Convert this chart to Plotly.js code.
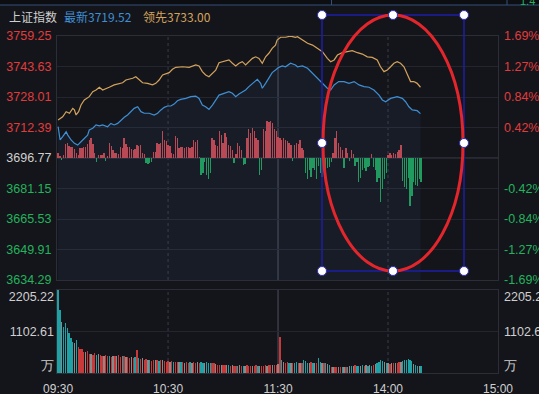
<!DOCTYPE html>
<html><head><meta charset="utf-8">
<script src="https://cdn.plot.ly/plotly-3.0.1.min.js"></script>
<style>html,body{margin:0;padding:0;background:#14151b;overflow:hidden}#c{width:539px;height:394px}</style>
</head><body><div id="c"></div>
<script>
// ---- data ----
const indexName = '上证指数';
const latest = 3719.52;
const leading = 3733.00;
const baseClose = 3696.77;
const priceTicks = [3634.29,3649.91,3665.53,3681.15,3696.77,3712.39,3728.01,3743.63,3759.25];
const pctTicks = ['-1.69%','-1.27%','-0.84%','-0.42%','','0.42%','0.84%','1.27%','1.69%'];
const timeTickVals = [0,60,120,180,240];
const timeTickText = ['09:30','10:30','11:30','14:00','15:00'];
const volTicks = [0,1102.61,2205.22];

// 领先 (leading) line: minute, price
const leadT = [0,2.5,4.4,6.2,8,8.9,9.8,11.2,12.5,14.3,17,18.9,20.7,22.5,24.3,26.1,27.9,30.6,33.4,35.2,37,38.8,40.7,42.4,44.2,46.1,48.8,51.5,53.3,55.1,57,58.8,60.6,62.4,64.2,67.9,71.5,75.1,76.9,78.7,80.5,82.3,84.2,86,87.8,89.6,91.4,93.2,95.1,96.9,98.7,100.5,102.3,104.1,106,107.8,109.6,111.4,113.2,115,116.8,118.6,119.5,121.4,124.1,126.8,129.5,130.6,133.3,136.1,138.8,141.5,144.2,146.9,148.7,150.6,152.4,155.1,157.8,160.5,163.3,166,168.7,171.4,174.1,175.9,177.8,179.6,181.4,183.2,185,186.8,188.7,190.5,192.3,194.1,195.9,197.7];
const leadP = [3716.2,3717.9,3720.5,3719.7,3722.2,3721.4,3718.8,3720.5,3723.9,3726.5,3728.2,3730.7,3731.6,3733.0,3731.6,3732.5,3733.0,3734.2,3734.7,3735.3,3736.7,3737.1,3737.6,3738.4,3736.7,3735.3,3735.0,3734.2,3735.0,3736.7,3739.3,3740.1,3740.5,3742.2,3743.2,3743.5,3743.2,3744.4,3743.9,3741.0,3739.3,3738.4,3740.1,3741.8,3745.6,3746.1,3746.6,3747.0,3745.3,3743.9,3745.3,3746.1,3744.4,3746.1,3747.8,3748.6,3747.8,3745.3,3748.6,3750.4,3752.9,3754.6,3757.2,3758.6,3758.6,3759.2,3758.6,3758.9,3757.2,3755.5,3754.6,3752.9,3751.2,3747.8,3746.1,3747.0,3749.5,3750.7,3751.2,3751.7,3750.7,3750.0,3748.6,3748.3,3747.0,3743.5,3741.0,3741.8,3743.5,3745.3,3746.1,3745.3,3743.5,3739.3,3735.9,3735.9,3735.0,3733.0];

// 最新 (latest) line: minute, price
const lastT = [0,1.1,2.5,4.4,5.3,7.1,8.9,10.7,12.5,14.3,16.1,17,18.9,20.7,22.5,24.3,27,28.8,30.6,32.5,34.3,36.1,37.9,39.7,41.5,43.4,45.2,47,49.7,52.4,54.3,56.1,57.9,59.7,61.5,63.3,65.1,66.9,69.7,72.4,75.1,76.9,78.7,80.5,82.3,84.2,86,87.8,90.5,93.2,95.1,96.9,98.7,100.5,102.3,104.1,106,108.7,110.5,111.4,113.2,115,116.8,118.6,120.4,122.3,124.1,126.8,129.5,130.6,133.3,136.1,138.8,141.5,144.2,146.9,148.7,150.6,153.1,156,158.7,161.5,164.2,166.9,169.6,172.3,175.1,176.9,178.7,181.4,185,187.8,189.6,191.4,193.2,195.9,197.7];
const lastP = [3712.8,3706.0,3707.7,3710.2,3708.5,3706.0,3704.3,3703.4,3705.1,3706.9,3708.5,3711.1,3712.0,3713.7,3713.2,3713.7,3712.8,3714.5,3713.7,3714.5,3716.2,3717.6,3718.8,3720.5,3722.2,3723.0,3720.5,3719.7,3719.7,3718.8,3719.7,3721.4,3722.7,3723.4,3723.4,3724.4,3726.1,3726.8,3727.3,3728.2,3728.5,3727.3,3723.9,3723.0,3721.7,3723.9,3726.5,3729.0,3729.9,3730.7,3729.9,3728.2,3729.5,3730.7,3731.6,3733.3,3735.0,3737.1,3735.0,3732.5,3735.0,3737.6,3740.5,3741.8,3743.2,3743.9,3743.5,3745.3,3744.4,3743.5,3743.9,3742.7,3740.1,3737.6,3735.0,3732.5,3731.6,3734.2,3735.9,3735.9,3735.0,3735.9,3734.2,3733.3,3733.0,3731.6,3729.0,3726.5,3725.6,3727.3,3728.2,3727.3,3725.6,3723.0,3721.4,3721.0,3719.5];

// red/green strength columns, one per minute (points above/below previous close)
const strength = [2.5,1,-1,1.5,7,7.5,6,5.5,5.5,4.5,2.5,1.5,5,5,5.5,5.5,7,9,10.5,7,2.5,-2,1.5,1.5,1.5,2.5,-1.5,1,7.5,6,4,2.5,2.5,2,5.5,5,10,7,5.5,5.5,4.5,4,4.5,6.5,6,6.5,2.5,2,-2.5,-3,-2.5,-2,3,3,7.5,7,7.5,14,9,8.5,6.5,6,2.5,2,11.5,10,5,5.5,5.5,5,5.5,5.5,5,5.5,9,8,9,0.5,-8.5,-7.5,-2,-8.5,-11,-7.5,10.5,9,6.5,6,14,12,7.5,13,11,6.5,6,4,-2.5,2,7.5,6,4,-3.5,-3,10,15,13,15.5,14,10.5,9,-8.5,-6,15,14,19,18.5,19,18,15,14,11,10,9,10,9,8.5,7.5,6.5,-1.5,6.5,7.5,7,9,5,4,-7.5,-11,-6,-9.5,-5,-6,-11,-4,-7.5,-9.5,-6,-7.5,-5,-4.5,-2,2.5,10,14,7.5,5.5,4,-5,5,2.5,-1.5,4,2,-4,-2,-12.5,-10,-6,-5,-6.5,-4.5,-4,2,-4.5,-6,-12.5,-10,-22.5,-16,-11,-7.5,1.5,2.5,1.5,2.5,2,3,4,6.5,-12,-15,-16,-10,-24.5,-19.5,-12.5,-14,-14.5,-11,-12.5];

// volume per minute (万) and its tick direction (1 up, -1 down, 0 flat)
const volume = [2205,1675,1360,1230,1320,1190,1060,920,830,790,880,700,650,630,570,560,580,510,500,490,520,480,500,470,455,440,470,445,450,430,460,450,440,470,430,445,455,430,420,410,425,400,415,610,400,385,390,350,360,340,350,330,355,340,345,330,350,340,310,300,320,295,310,290,300,305,285,280,290,270,285,275,290,270,280,265,300,270,280,275,260,285,270,265,275,260,230,210,220,200,215,205,220,200,190,200,185,195,190,200,180,195,185,200,190,180,195,185,200,190,185,195,180,200,190,210,205,220,210,200,230,960,345,300,270,280,265,275,260,270,285,260,275,270,345,330,270,260,280,265,270,275,390,280,260,270,255,240,200,170,160,165,155,170,160,150,165,160,170,175,190,185,200,180,195,190,210,185,200,195,205,190,210,230,260,300,350,330,280,260,270,250,265,255,270,260,280,300,320,350,340,370,355,320,250,210,190,180,185];
const volDir = [-1,-1,0,-1,-1,-1,-1,-1,-1,0,-1,
 1,1,1,1,0,1,1,0,1,1,-1,0,1,1,0,1,1,-1,1,0,
 1,0,1,1,-1,1,0,1,1,0,1,-1,1,-1,1,0,1,1,0,-1,1,1,0,1,-1,1,0,1,1,1,
 0,1,-1,1,1,0,-1,1,0,1,1,-1,0,1,1,0,1,-1,-1,0,-1,-1,-1,1,1,0,1,1,0,1,
 1,0,-1,1,0,1,1,-1,0,1,-1,0,1,1,1,0,1,1,-1,0,1,1,1,0,1,1,0,1,1,0,
 1,-1,0,1,1,-1,0,1,-1,-1,1,0,1,-1,-1,-1,0,1,-1,0,1,-1,-1,0,1,-1,0,-1,1,0,
 1,1,0,1,-1,0,1,-1,0,-1,0,1,-1,-1,0,-1,1,0,-1,0,-1,1,0,-1,-1,-1,-1,0,-1,0,
 1,0,1,0,1,1,0,-1,-1,-1,-1,-1,-1,0,-1,-1,0,-1];

// ---- styling / layout ----
const W = 539, H = 394;
const px = v => v / W, py = v => 1 - v / H;
const RED = '#e03c3c', GREEN = '#22b35c', GREY = '#cfcfcf';
const BG = '#14151b', GRID = '#24262f', FRAME = '#2b2d37';
const FONT = 'Arial, "Liberation Sans", sans-serif';
const CJK = '"Noto Sans CJK SC", sans-serif';

const minutes = strength.map((_, i) => i);
const volMin = volume.map((_, i) => i);
const pMin = priceTicks[0], pMax = priceTicks[priceTicks.length - 1];
const pct = p => (p / baseClose - 1) * 100;
const col = (v, ref) => v > ref + 1e-9 ? RED : (v < ref - 1e-9 ? GREEN : GREY);

const leftText = priceTicks.map(p => `<span style="color:${col(p, baseClose)}">${p.toFixed(2)}</span>`);
const rightText = priceTicks.map((p, i) => pctTicks[i] === '' ? '' :
  `<span style="color:${col(p, baseClose)}">${pctTicks[i]}</span>`);

const volMax = volTicks[2];
const nudge = 7 * volMax / 83;
const volLabelVals = [nudge, volTicks[1], volMax - nudge];
const volLabelText = ['万', volTicks[1].toFixed(2), volMax.toFixed(2)];

const traces = [
  { type: 'bar', x: minutes, y: strength, base: baseClose, xaxis: 'x', yaxis: 'y',
    width: 0.72, marker: { color: strength.map(v => v >= 0 ? '#c4464c' : '#1f9e58'), line: { width: 0 } } },
  { type: 'scatter', mode: 'lines', x: lastT, y: lastP, xaxis: 'x', yaxis: 'y',
    line: { color: '#3f8fd4', width: 1.2 }, fill: 'tozeroy', fillcolor: 'rgba(70,120,180,0.08)' },
  { type: 'scatter', mode: 'lines', x: leadT, y: leadP, xaxis: 'x', yaxis: 'y',
    line: { color: '#d3a35c', width: 1.2 } },
  { type: 'scatter', mode: 'markers', x: [0], y: [pct(baseClose)], xaxis: 'x', yaxis: 'y2',
    marker: { size: 1, color: 'rgba(0,0,0,0)' } },
  { type: 'bar', x: volMin, y: volume, xaxis: 'x2', yaxis: 'y3', width: 0.7,
    marker: { color: volDir.map(d => d > 0 ? '#c83a3a' : (d < 0 ? '#1fa2a6' : '#8a8a8a')), line: { width: 0 } } },
  { type: 'scatter', mode: 'markers', x: [0], y: [0], xaxis: 'x2', yaxis: 'y4', marker: { size: 1, color: 'rgba(0,0,0,0)' } },
  { type: 'scatter', mode: 'markers', x: [0], y: [0], xaxis: 'x2', yaxis: 'y5', marker: { size: 1, color: 'rgba(0,0,0,0)' } }
];

const xDom = [px(57), px(498)];
const mainDom = [py(280), py(36)];
const volDom = [py(373), py(290)];
const xRange = [-0.6, 240];

const shapes = [];
// top strip
shapes.push({ type: 'rect', xref: 'paper', yref: 'paper', x0: 0, x1: 1, y0: py(5), y1: 1, fillcolor: '#0d0e12', line: { width: 0 }, layer: 'below' });
shapes.push({ type: 'line', xref: 'paper', yref: 'paper', x0: 0, x1: 1, y0: py(5), y1: py(5), line: { color: '#33507a', width: 1.2 } });
[331.5, 507].forEach(v => shapes.push({ type: 'line', xref: 'paper', yref: 'paper', x0: px(v), x1: px(v), y0: 1, y1: py(5), line: { color: '#33507a', width: 1 } }));
// base line
shapes.push({ type: 'line', xref: 'x', yref: 'y', x0: xRange[0], x1: xRange[1], y0: baseClose, y1: baseClose, line: { color: '#3d3f49', width: 1.2 }, layer: 'below' });
// vertical time grid
timeTickVals.slice(1, 4).forEach(t => {
  const solid = t === 120;
  shapes.push({ type: 'line', xref: 'x', yref: 'y', x0: t, x1: t, y0: pMin, y1: pMax, layer: 'below',
    line: { color: '#3a3c47', width: solid ? 1.5 : 1, dash: solid ? 'solid' : 'dot' } });
  shapes.push({ type: 'line', xref: 'x2', yref: 'y3', x0: t, x1: t, y0: 0, y1: volMax, layer: 'below',
    line: { color: '#3a3c47', width: solid ? 1.5 : 1, dash: solid ? 'solid' : 'dot' } });
});
// annotation box + ellipse drawn over the chart
const bx0 = 322, bx1 = 464, by0 = 15, by1 = 271;
shapes.push({ type: 'rect', xref: 'paper', yref: 'paper', x0: px(bx0), x1: px(bx1), y0: py(by1), y1: py(by0), line: { color: '#1e1ea8', width: 1.5 }, fillcolor: 'rgba(0,0,0,0)' });
shapes.push({ type: 'circle', xref: 'paper', yref: 'paper', x0: px(bx0 + 1), x1: px(bx1 - 1), y0: py(by1), y1: py(by0), line: { color: '#e2262c', width: 3 } });
const mx = (bx0 + bx1) / 2, my = (by0 + by1) / 2;
[[bx0, by0], [mx, by0], [bx1, by0], [bx0, my], [bx1, my], [bx0, by1], [mx, by1], [bx1, by1]].forEach(([a, b]) => {
  shapes.push({ type: 'circle', xref: 'paper', yref: 'paper', xsizemode: 'pixel', ysizemode: 'pixel',
    xanchor: px(a), yanchor: py(b), x0: -4.5, x1: 4.5, y0: -4.5, y1: 4.5,
    fillcolor: '#ffffff', line: { color: '#3030b0', width: 1 } });
});

const annotations = [
  { xref: 'paper', yref: 'paper', x: px(7), y: py(16.5), xanchor: 'left', yanchor: 'middle', showarrow: false,
    text: indexName, font: { family: CJK, size: 12, color: '#cfcfcf' } },
  { xref: 'paper', yref: 'paper', x: px(62), y: py(16.5), xanchor: 'left', yanchor: 'middle', showarrow: false,
    text: '最新' + latest.toFixed(2), font: { family: CJK, size: 12, color: '#3f8fd4' } },
  { xref: 'paper', yref: 'paper', x: px(141), y: py(16.5), xanchor: 'left', yanchor: 'middle', showarrow: false,
    text: '领先' + leading.toFixed(2), font: { family: CJK, size: 12, color: '#d3a35c' } },
  { xref: 'paper', yref: 'paper', x: px(518), y: py(1), xanchor: 'left', yanchor: 'middle', showarrow: false,
    text: '1.4', font: { family: FONT, size: 11, color: '#22b35c' } }
];

const axFont = { family: FONT, size: 12, color: GREY };
const layout = {
  width: W, height: H, margin: { l: 0, r: 0, t: 0, b: 0, pad: 0 },
  paper_bgcolor: BG, plot_bgcolor: BG, showlegend: false, hovermode: false, bargap: 0,
  xaxis: { domain: xDom, range: xRange, anchor: 'y', showticklabels: false, ticks: '', showgrid: false, zeroline: false,
    showline: true, mirror: true, linecolor: FRAME, linewidth: 1 },
  xaxis2: { domain: xDom, range: xRange, anchor: 'y3', matches: 'x', tickvals: timeTickVals, ticktext: timeTickText,
    ticks: '', showgrid: false, zeroline: false, showline: true, mirror: true, linecolor: FRAME, linewidth: 1,
    tickfont: axFont, ticklabelstandoff: 5 },
  yaxis: { domain: mainDom, range: [pMin, pMax], anchor: 'x', side: 'left', tickvals: priceTicks, ticktext: leftText,
    ticks: '', showgrid: true, gridcolor: GRID, gridwidth: 1, zeroline: false, showline: true, mirror: true,
    linecolor: FRAME, tickfont: { family: FONT, size: 12.5, color: GREY }, ticklabelstandoff: 2 },
  yaxis2: { overlaying: 'y', side: 'right', anchor: 'x', range: [pct(pMin), pct(pMax)], tickvals: priceTicks.map(pct),
    ticktext: rightText, ticks: '', showgrid: false, zeroline: false, showline: false,
    tickfont: { family: FONT, size: 12.5, color: GREY }, ticklabelstandoff: 5 },
  yaxis3: { domain: volDom, range: [0, volMax], anchor: 'x2', tickvals: volTicks, showticklabels: false, ticks: '',
    showgrid: true, gridcolor: GRID, zeroline: false, showline: true, mirror: true, linecolor: FRAME },
  yaxis4: { overlaying: 'y3', side: 'left', anchor: 'x2', range: [0, volMax], tickvals: volLabelVals, ticktext: volLabelText,
    ticks: '', showgrid: false, zeroline: false, showline: false, tickfont: { family: FONT, size: 12.5, color: GREY }, ticklabelstandoff: 2 },
  yaxis5: { overlaying: 'y3', side: 'right', anchor: 'x2', range: [0, volMax], tickvals: volLabelVals, ticktext: volLabelText,
    ticks: '', showgrid: false, zeroline: false, showline: false, tickfont: { family: FONT, size: 12.5, color: GREY }, ticklabelstandoff: 5 },
  shapes: shapes, annotations: annotations
};

Plotly.newPlot('c', traces, layout, { staticPlot: true, displayModeBar: false });
</script></body></html>
